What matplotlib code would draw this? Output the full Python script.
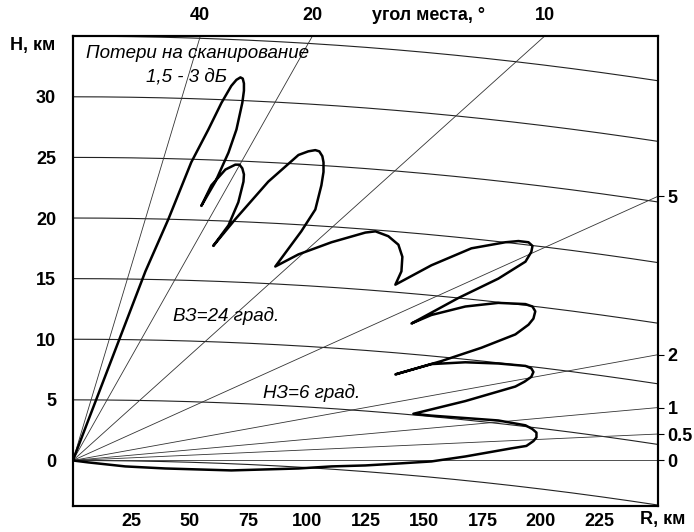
import numpy as np
import matplotlib.pyplot as plt

plt.rcParams['font.family'] = ['Liberation Sans', 'DejaVu Sans']

# coverage contour (range km, height km), traced along the lobes
cover_r = [0, 31.0, 40.8, 50.6, 57.9, 63.5, 67.7, 69.9, 71.6, 72.6, 73.1, 73.1, 72.4, 69.9, 66.5, 60.9, 54.9,
           59.2, 65.2, 69.4, 71.2, 72.4, 73.1, 72.9, 70.7, 66.5, 60.0,
           69.4, 83.5, 96.4, 100.6, 103.6, 105.3, 106.6, 107.1, 107.1, 106.2, 103.6, 97.6, 86.5,
           96.4, 110.5, 125.0, 129.3, 134.8, 139.1, 140.8, 140.4, 137.8,
           153.2, 170.3, 184.8, 190.4, 194.7, 196.4, 195.9, 193.4, 181.8, 164.7, 144.7,
           153.2, 167.7, 181.8, 193.4, 196.4, 197.6, 196.8, 194.7, 189.1, 174.6, 157.5, 137.8,
           153.2, 167.7, 181.8, 193.4, 195.9, 196.8, 195.9, 193.0, 189.1, 167.7, 145.5,
           153.2, 167.7, 181.8, 193.4, 196.3, 198.1, 198.1, 196.8, 193.8, 187.4, 167.7, 153.2,
           139.1, 125.0, 110.5, 96.4, 67.7, 39.5, 22.4, 6.6, 0]
cover_h = [0, 15.6, 19.9, 24.6, 27.3, 29.5, 30.9, 31.4, 31.6, 31.5, 31.1, 30.5, 29.5, 27.3, 25.4, 23.0, 21.0,
           22.7, 24.0, 24.4, 24.4, 24.1, 23.6, 23.0, 21.3, 19.4, 17.7,
           19.9, 23.0, 25.2, 25.5, 25.6, 25.5, 25.1, 24.6, 23.8, 22.7, 20.7, 18.9, 16.0,
           17.0, 18.0, 18.8, 18.9, 18.5, 17.8, 16.8, 15.6, 14.5,
           16.1, 17.5, 18.0, 18.1, 18.0, 17.7, 17.2, 16.4, 15.0, 13.4, 11.3,
           12.0, 12.7, 13.0, 12.9, 12.7, 12.3, 11.7, 11.2, 10.4, 9.3, 8.2, 7.1,
           7.95, 8.1, 8.0, 7.8, 7.6, 7.3, 6.9, 6.5, 6.1, 4.9, 3.85,
           3.7, 3.5, 3.3, 2.9, 2.6, 2.3, 1.9, 1.6, 1.2, 1.0, 0.33, -0.08,
           -0.25, -0.41, -0.49, -0.66, -0.82, -0.66, -0.49, -0.16, 0]

height_levels = [0, 5, 10, 15, 20, 25, 30, 35]      # km
elev_angles = [40, 20, 10, 5, 2, 1, 0.5, 0]         # degrees
top_angles = [40, 20, 10]
right_angles = [5, 2, 1, 0.5, 0]
right_labels = ['5', '2', '1', '0.5', '0']
x_ticks = [25, 50, 75, 100, 125, 150, 175, 200, 225]
y_ticks = [0, 5, 10, 15, 20, 25, 30]
re_eff = 8500.0   # 4/3 earth radius, km
r_max = 250

fig = plt.figure(figsize=(6.94, 5.32), dpi=100)
ax = fig.add_axes([0.105, 0.049, 0.843, 0.883])
ax.set_xlim(0, r_max)
ax.set_ylim(-3.75, 35)

r = np.linspace(0, r_max, 300)
# constant height lines over curved earth
for h in height_levels:
    ax.plot(r, h - r**2 / (2 * re_eff), color='#222222', lw=0.8)
# elevation angle lines
for a in elev_angles:
    ax.plot(r, r * np.sin(np.radians(a)), color='#333333', lw=0.6)

ax.plot(cover_r, cover_h, color='black', lw=1.8, solid_joinstyle='round')

fs = 13
bold = dict(fontsize=fs, fontweight='bold')
ax.set_xticks(x_ticks)
ax.set_yticks(y_ticks)
ax.tick_params(length=0, labelsize=fs)
ax.tick_params(axis='y', pad=12)
ax.tick_params(axis='x', pad=5)
for lab in ax.get_xticklabels() + ax.get_yticklabels():
    lab.set_fontweight('bold')
ax.text(r_max + 2, -4.9, 'R, км', ha='center', va='center', **bold)
ax.text(-27, 34.2, 'H, км', ha='left', va='center', **bold)

# right axis: low elevation angles
ax2 = ax.twinx()
ax2.set_ylim(ax.get_ylim())
ax2.set_yticks([r_max * np.sin(np.radians(a)) for a in right_angles])
ax2.set_yticklabels(right_labels, fontweight='bold', fontsize=fs)
ax2.tick_params(length=4, width=0.8, pad=3)

# top labels: high elevation angles
for a in top_angles:
    ax.text(35 / np.sin(np.radians(a)), 36.0, str(a), ha='center', va='bottom', **bold)
ax.text(152, 36.0, 'угол места, °', ha='center', va='bottom', **bold)

for s in ['left', 'bottom', 'right', 'top']:
    ax.spines[s].set_linewidth(1.5)
    ax2.spines[s].set_linewidth(1.5)

it = dict(fontsize=13.5, fontstyle='italic')
ax.text(5.8, 33.6, 'Потери на сканирование', ha='left', va='center', **it)
ax.text(31.4, 31.6, '1,5 - 3 дБ', ha='left', va='center', **it)
ax.text(43, 11.9, 'ВЗ=24 град.', ha='left', va='center', **it)
ax.text(81.4, 5.6, 'НЗ=6 град.', ha='left', va='center', **it)

fig.savefig('out.png', dpi=100)
